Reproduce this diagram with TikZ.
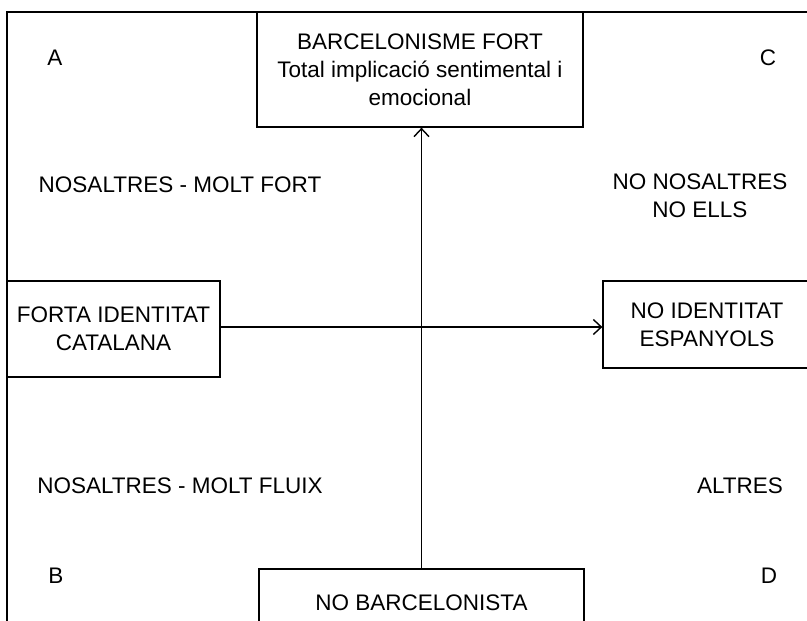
\documentclass[tikz,border=0pt]{standalone}
\usepackage{fontspec}
\setmainfont{Liberation Sans}
\usetikzlibrary{positioning, arrows.meta}

\begin{document}
\begin{tikzpicture}[x=1pt, y=-1pt, line width=1.3pt,
    font=\fontsize{22.5}{28}\selectfont,
    >={Straight Barb[length=8pt, width=15pt, line width=1.4pt]},
    quadbox/.style={draw, rectangle, align=center, inner sep=0pt},
    tag/.style={align=center, inner sep=0pt}]
    \useasboundingbox (0, 0) rectangle (807, 621);

    \coordinate (corner) at (7, 12);
    \draw (807, 12) -- (corner) -- (7, 621);

    \node[quadbox, minimum width=326pt, minimum height=115pt] (fort) at (420, 69.5)
        {BARCELONISME FORT\\Total implicació sentimental i\\emocional};
    \node[quadbox, minimum width=213pt, minimum height=96pt] (catalana) at (113.5, 329)
        {FORTA IDENTITAT\\CATALANA};
    \node[quadbox, minimum width=208pt, minimum height=87pt] (espanyols) at (707, 324.5)
        {NO IDENTITAT\\ESPANYOLS};
    \node[quadbox, minimum width=325pt, minimum height=68pt] (nobarca) at (421.5, 603)
        {NO BARCELONISTA};

    \draw[->] (nobarca.north) -- (nobarca.north |- fort.south);
    \draw[->] (catalana.east |- 0, 327) -- (espanyols.west |- 0, 327);

    \node[tag] (A) at (55, 58) {A};
    \node[tag] (C) at (768, 58) {C};
    \node[tag] (B) at (56, 576) {B};
    \node[tag] (D) at (769, 576) {D};

    \node[tag] (fortnos) at (180, 185) {NOSALTRES - MOLT FORT};
    \node[tag] (noells) at (700, 196) {NO NOSALTRES\\NO ELLS};
    \node[tag] (fluix) at (180, 485.5) {NOSALTRES - MOLT FLUIX};
    \node[tag] (altres) at (740, 485.5) {ALTRES};
\end{tikzpicture}
\end{document}
